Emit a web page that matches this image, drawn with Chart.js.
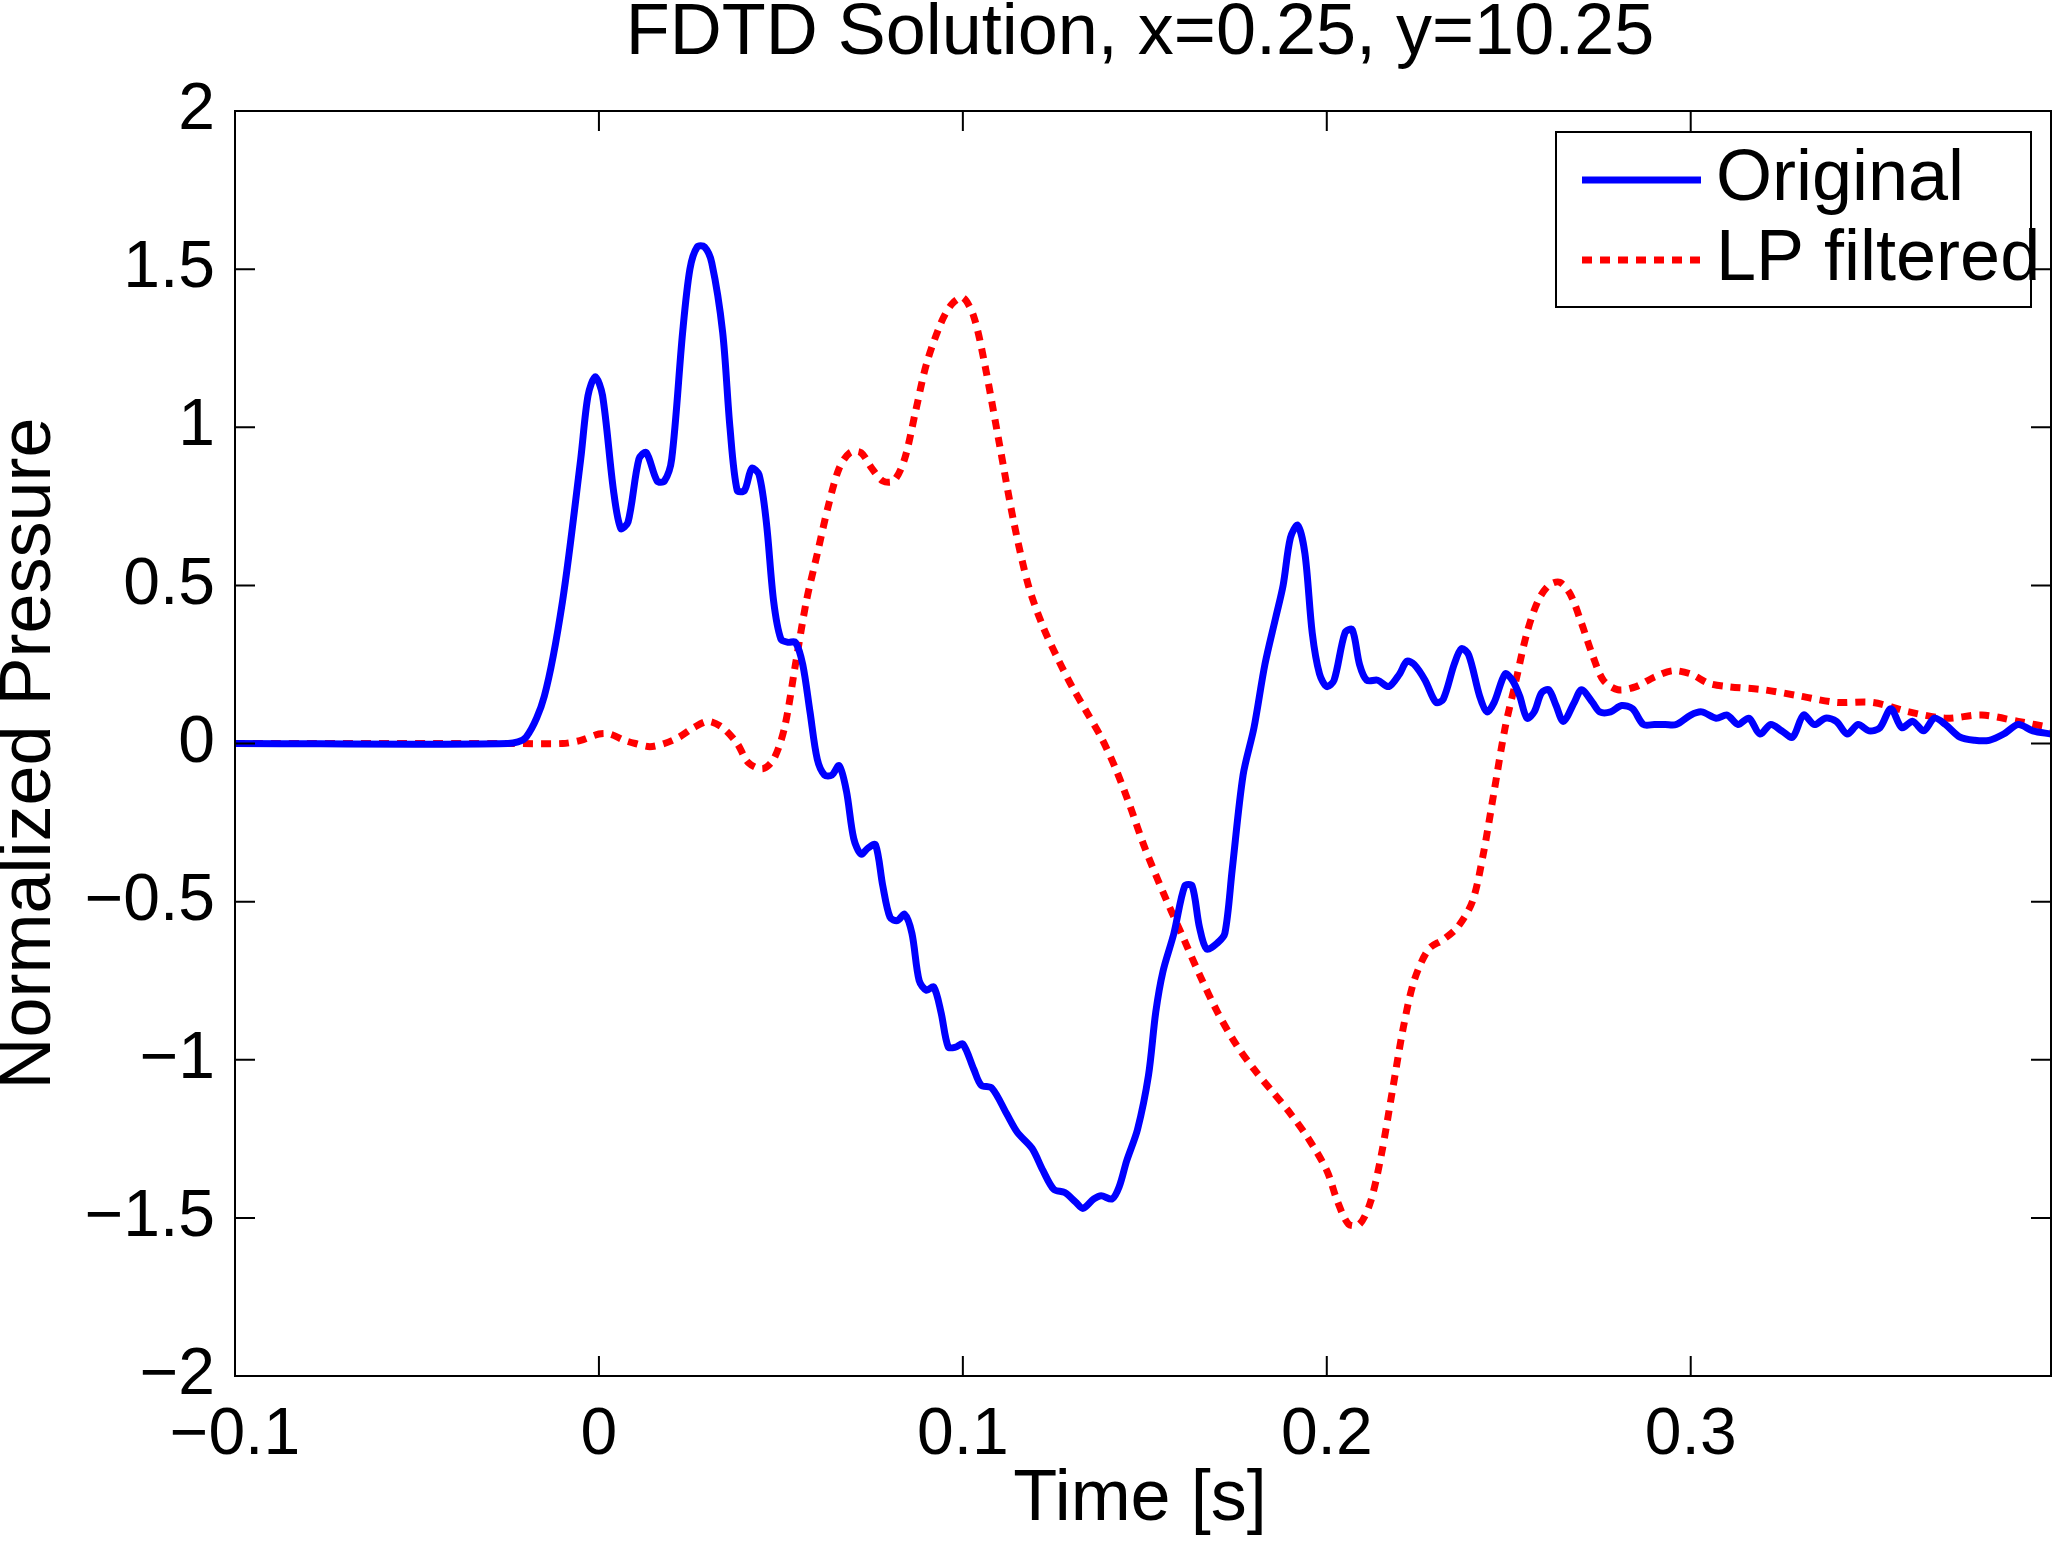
<!DOCTYPE html>
<html>
<head>
<meta charset="utf-8">
<script src="https://cdn.jsdelivr.net/npm/chart.js@4"></script>
<style>
  html, body { margin: 0; padding: 0; background: #fff; }
  #wrap { width: 2055px; height: 1543px; }
</style>
</head>
<body>
<div id="wrap"><canvas id="c"></canvas></div>
<script>
const titleText = 'FDTD Solution, x=0.25, y=10.25'
const xTitle = 'Time [s]'
const yTitle = 'Normalized Pressure'
const xTicks = [-0.1, 0, 0.1, 0.2, 0.3]
const yTicks = [-2, -1.5, -1, -0.5, 0, 0.5, 1, 1.5, 2]

const origT = [-0.1,-0.025,-0.02,-0.015,-0.01,-0.005,-0.003,-0.001,0.001,0.004,0.006,0.008,0.011,0.013,0.016,0.018,0.02,0.023,0.025,0.027,0.029,0.031,0.034,0.036,0.038,0.040,0.042,0.044,0.046,0.048,0.050,0.052,0.054,0.056,0.058,0.060,0.062,0.064,0.066,0.068,0.070,0.072,0.074,0.076,0.078,0.080,0.082,0.084,0.086,0.088,0.090,0.092,0.094,0.096,0.098,0.100,0.103,0.105,0.108,0.112,0.115,0.119,0.122,0.125,0.128,0.131,0.133,0.136,0.138,0.141,0.143,0.145,0.148,0.151,0.153,0.155,0.158,0.161,0.163,0.165,0.167,0.170,0.172,0.174,0.177,0.180,0.183,0.186,0.188,0.190,0.192,0.194,0.196,0.198,0.200,0.202,0.205,0.207,0.209,0.211,0.214,0.217,0.220,0.222,0.224,0.227,0.230,0.232,0.235,0.237,0.239,0.242,0.244,0.246,0.249,0.251,0.253,0.255,0.257,0.259,0.261,0.263,0.265,0.268,0.270,0.273,0.275,0.278,0.281,0.284,0.287,0.290,0.293,0.296,0.300,0.303,0.307,0.310,0.313,0.316,0.319,0.322,0.325,0.328,0.331,0.334,0.337,0.340,0.343,0.346,0.349,0.352,0.355,0.358,0.361,0.364,0.367,0.370,0.374,0.378,0.382,0.386,0.390,0.394,0.399]
const origP = [0,0,0.02,0.15,0.45,0.9,1.1,1.16,1.1,0.8,0.68,0.7,0.9,0.92,0.83,0.83,0.9,1.3,1.5,1.57,1.57,1.52,1.3,1.0,0.8,0.8,0.87,0.85,0.7,0.45,0.33,0.32,0.32,0.25,0.1,-0.05,-0.1,-0.1,-0.07,-0.15,-0.3,-0.35,-0.33,-0.32,-0.45,-0.55,-0.56,-0.54,-0.6,-0.75,-0.78,-0.77,-0.85,-0.96,-0.96,-0.95,-1.03,-1.08,-1.09,-1.17,-1.23,-1.28,-1.35,-1.41,-1.42,-1.45,-1.47,-1.44,-1.43,-1.44,-1.40,-1.32,-1.22,-1.05,-0.85,-0.72,-0.6,-0.45,-0.45,-0.58,-0.65,-0.63,-0.6,-0.4,-0.1,0.05,0.25,0.4,0.5,0.65,0.69,0.6,0.35,0.22,0.18,0.2,0.35,0.36,0.25,0.2,0.2,0.18,0.22,0.26,0.25,0.2,0.13,0.14,0.25,0.3,0.28,0.15,0.1,0.13,0.22,0.2,0.15,0.08,0.1,0.16,0.17,0.12,0.07,0.13,0.17,0.13,0.1,0.1,0.12,0.11,0.06,0.06,0.06,0.06,0.09,0.1,0.08,0.09,0.06,0.08,0.03,0.06,0.04,0.02,0.09,0.06,0.08,0.07,0.03,0.06,0.04,0.05,0.11,0.05,0.07,0.04,0.08,0.06,0.02,0.01,0.01,0.03,0.06,0.04,0.03]

const lpT = [-0.1,-0.025,-0.01,-0.005,0,0.003,0.007,0.01,0.014,0.018,0.022,0.026,0.030,0.034,0.038,0.041,0.045,0.048,0.051,0.054,0.057,0.06,0.063,0.066,0.069,0.072,0.075,0.078,0.081,0.084,0.087,0.090,0.094,0.097,0.100,0.103,0.106,0.110,0.114,0.118,0.122,0.126,0.130,0.134,0.138,0.142,0.146,0.150,0.155,0.160,0.165,0.170,0.175,0.180,0.185,0.190,0.195,0.200,0.203,0.206,0.209,0.212,0.215,0.218,0.221,0.224,0.228,0.232,0.236,0.240,0.243,0.246,0.249,0.252,0.255,0.258,0.261,0.264,0.267,0.270,0.273,0.276,0.280,0.285,0.290,0.295,0.300,0.305,0.310,0.320,0.330,0.340,0.350,0.360,0.370,0.380,0.390,0.399]
const lpP = [0,0,0,0.01,0.03,0.03,0.01,0,-0.01,0,0.02,0.05,0.07,0.05,0.0,-0.06,-0.08,-0.05,0.05,0.25,0.45,0.6,0.75,0.87,0.92,0.92,0.87,0.83,0.83,0.9,1.05,1.2,1.33,1.39,1.41,1.35,1.2,0.95,0.7,0.5,0.37,0.27,0.18,0.1,0.02,-0.08,-0.2,-0.33,-0.47,-0.6,-0.73,-0.85,-0.95,-1.03,-1.1,-1.17,-1.25,-1.35,-1.45,-1.52,-1.52,-1.45,-1.3,-1.1,-0.9,-0.75,-0.65,-0.62,-0.58,-0.5,-0.35,-0.15,0.05,0.2,0.35,0.45,0.5,0.51,0.47,0.38,0.28,0.2,0.17,0.18,0.21,0.23,0.22,0.19,0.18,0.17,0.15,0.13,0.13,0.1,0.08,0.09,0.07,0.05]

const FONT = 'Liberation Sans, Arial, sans-serif'
const FS = 66      // tick labels
const FT = 72      // titles and legend
const fmt = v => (v < 0 ? '\u2212' : '') + String(Math.abs(v))

const frame = {
  id: 'frame',
  afterDraw(chart) {
    const { ctx, chartArea: a, scales } = chart
    ctx.save()
    ctx.strokeStyle = '#000'
    ctx.lineWidth = 2
    ctx.strokeRect(a.left, a.top, a.right - a.left, a.bottom - a.top)
    const L = 20
    ctx.beginPath()
    xTicks.forEach(v => {
      const x = scales.x.getPixelForValue(v)
      ctx.moveTo(x, a.bottom); ctx.lineTo(x, a.bottom - L)
      ctx.moveTo(x, a.top); ctx.lineTo(x, a.top + L)
    })
    yTicks.forEach(v => {
      const y = scales.y.getPixelForValue(v)
      ctx.moveTo(a.left, y); ctx.lineTo(a.left + L, y)
      ctx.moveTo(a.right, y); ctx.lineTo(a.right - L, y)
    })
    ctx.stroke()

    ctx.fillStyle = '#000'
    ctx.font = FT + 'px ' + FONT
    ctx.textAlign = 'center'
    ctx.textBaseline = 'middle'
    ctx.fillText(titleText, (a.left + a.right) / 2 - 3, 34)
    ctx.fillText(xTitle, (a.left + a.right) / 2 - 3, 1500)
    ctx.save()
    ctx.translate(30, (a.top + a.bottom) / 2 + 10)
    ctx.rotate(-Math.PI / 2)
    ctx.fillText(yTitle, 0, 0)
    ctx.restore()

    // legend
    const bx = 1556, by = 132, bw = 475, bh = 175
    ctx.fillStyle = '#fff'
    ctx.fillRect(bx, by, bw, bh)
    ctx.lineWidth = 2
    ctx.strokeRect(bx, by, bw, bh)
    const rows = [180, 260]
    chart.data.datasets.forEach((ds, i) => {
      ctx.beginPath()
      ctx.strokeStyle = ds.borderColor
      ctx.lineWidth = ds.borderWidth
      ctx.setLineDash(ds.borderDash || [])
      ctx.moveTo(1582, rows[i]); ctx.lineTo(1701, rows[i])
      ctx.stroke()
      ctx.setLineDash([])
      ctx.fillStyle = '#000'
      ctx.textAlign = 'left'
      ctx.fillText(ds.label, 1716, rows[i])
    })
    ctx.restore()
  }
}

new Chart(document.getElementById('c'), {
  type: 'line',
  data: {
    datasets: [
      {
        label: 'Original',
        data: origT.map((t, i) => ({ x: t, y: origP[i] })),
        borderColor: '#0000ff',
        borderWidth: 7,
        pointRadius: 0,
        tension: 0.3
      },
      {
        label: 'LP filtered',
        data: lpT.map((t, i) => ({ x: t, y: lpP[i] })),
        borderColor: '#ff0000',
        borderWidth: 7,
        borderDash: [10, 8],
        pointRadius: 0,
        tension: 0.3
      }
    ]
  },
  options: {
    responsive: true,
    maintainAspectRatio: false,
    animation: false,
    devicePixelRatio: 1,
    layout: { padding: { top: 111, right: 4, left: 0, bottom: 0 } },
    plugins: { legend: { display: false }, tooltip: { enabled: false } },
    scales: {
      x: {
        type: 'linear', min: -0.1, max: 0.399,
        afterBuildTicks: s => { s.ticks = xTicks.map(v => ({ value: v })) },
        afterFit: s => { s.height = 167 },
        grid: { display: false },
        border: { display: false },
        ticks: { color: '#000', font: { family: FONT, size: FS }, padding: 12, maxRotation: 0, callback: v => fmt(v) }
      },
      y: {
        min: -2, max: 2,
        afterBuildTicks: s => { s.ticks = yTicks.map(v => ({ value: v })) },
        afterFit: s => { s.width = 235 },
        grid: { display: false },
        border: { display: false },
        ticks: { color: '#000', font: { family: FONT, size: FS }, padding: 12, callback: v => fmt(v) }
      }
    }
  },
  plugins: [frame]
})
</script>
</body>
</html>
